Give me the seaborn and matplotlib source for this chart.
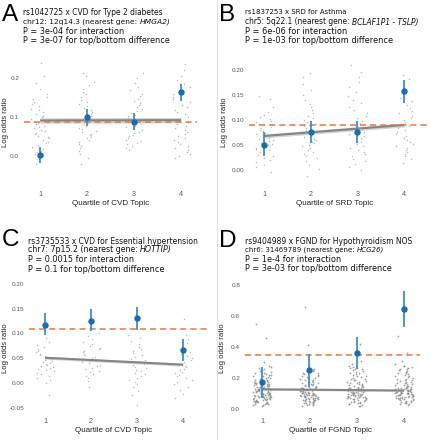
import numpy as np
import pandas as pd
import matplotlib
matplotlib.use("Agg")
import matplotlib.pyplot as plt
import seaborn as sns
from matplotlib.lines import Line2D

sns.set_style("white")
plt.rcParams['font.family'] = ['Liberation Sans', 'DejaVu Sans']

# ---------------- data ----------------
quartiles = [1, 2, 3, 4]
quartile_labels = ["1", "2", "3", "4"]

# Panel A
A_est = [0.003, 0.099, 0.088, 0.163]
A_lo = [-0.018, 0.077, 0.067, 0.142]
A_hi = [0.024, 0.120, 0.110, 0.185]
A_overall = 0.088
A_reg = [0.091, 0.092]
A_band = 0.007
A_q1 = [0.238, 0.205, 0.188, 0.172, 0.160, 0.151, 0.146, 0.139, 0.133, 0.128, 0.121, 0.117, 0.112, 0.108,
        0.103, 0.099, 0.096, 0.092, 0.088, 0.085, 0.081, 0.078, 0.074, 0.071, 0.067, 0.063, 0.060, 0.056,
        0.052, 0.049, 0.045, 0.041, 0.037, 0.033, 0.028, 0.024, 0.019, 0.014, 0.009, 0.004, -0.002, -0.012, -0.021]
A_q2 = [0.212, 0.205, 0.190, 0.181, 0.172, 0.165, 0.158, 0.150, 0.144, 0.139, 0.133, 0.127, 0.122, 0.117,
        0.112, 0.107, 0.102, 0.097, 0.093, 0.089, 0.085, 0.081, 0.077, 0.073, 0.069, 0.065, 0.061, 0.057,
        0.053, 0.049, 0.045, 0.041, 0.036, 0.031, 0.026, 0.020, 0.013, 0.006, -0.004, -0.020]
A_q3 = [0.213, 0.200, 0.186, 0.176, 0.168, 0.160, 0.153, 0.147, 0.141, 0.135, 0.130, 0.125, 0.120, 0.115,
        0.110, 0.106, 0.102, 0.098, 0.094, 0.090, 0.086, 0.082, 0.078, 0.074, 0.070, 0.066, 0.062, 0.058,
        0.054, 0.050, 0.046, 0.042, 0.038, 0.034, 0.030, 0.025, 0.020, 0.015]
A_q4 = [0.236, 0.220, 0.205, 0.195, 0.185, 0.176, 0.168, 0.160, 0.152, 0.145, 0.138, 0.131, 0.125, 0.119,
        0.113, 0.107, 0.101, 0.096, 0.091, 0.086, 0.081, 0.076, 0.071, 0.066, 0.061, 0.056, 0.051, 0.046,
        0.041, 0.036, 0.031, 0.026, 0.021, 0.016, 0.011, 0.006, 0.000, -0.005]
A_yticks = [0.0, 0.1, 0.2]
A_yticklabels = ["0.0", "0.1", "0.2"]
A_title = ["rs1042725 x CVD for Type 2 diabetes", "chr12: 12q14.3 (nearest gene: ", "HMGA2)",
           "P = 3e-04 for interaction", "P = 3e-07 for top/bottom difference"]
A_xlabel = "Quartile of CVD Topic"

# Panel B
B_est = [0.050, 0.075, 0.075, 0.157]
B_lo = [0.027, 0.053, 0.053, 0.133]
B_hi = [0.075, 0.098, 0.098, 0.180]
B_overall = 0.089
B_reg = [0.068, 0.090]
B_band = 0.004
B_q1 = [0.148, 0.142, 0.125, 0.115, 0.110, 0.106, 0.102, 0.098, 0.095, 0.092, 0.089, 0.086, 0.083, 0.080,
        0.077, 0.074, 0.072, 0.069, 0.067, 0.064, 0.062, 0.059, 0.057, 0.054, 0.052, 0.049, 0.047, 0.044,
        0.042, 0.039, 0.036, 0.033, 0.030, 0.027, 0.023, 0.019, 0.015, 0.010, 0.006, -0.005]
B_q2 = [0.194, 0.185, 0.172, 0.160, 0.150, 0.140, 0.132, 0.125, 0.119, 0.113, 0.108, 0.103, 0.099, 0.095,
        0.091, 0.087, 0.083, 0.080, 0.077, 0.074, 0.071, 0.068, 0.065, 0.062, 0.059, 0.056, 0.053, 0.050,
        0.047, 0.044, 0.040, 0.036, 0.032, 0.028, 0.023, 0.017, 0.010, 0.002, -0.012]
B_q3 = [0.210, 0.195, 0.185, 0.175, 0.165, 0.155, 0.147, 0.140, 0.133, 0.126, 0.120, 0.114, 0.108, 0.103,
        0.098, 0.093, 0.088, 0.084, 0.080, 0.076, 0.072, 0.068, 0.064, 0.060, 0.056, 0.052, 0.048, 0.044,
        0.040, 0.036, 0.032, 0.027, 0.022, 0.017, 0.012, 0.006, 0.000]
B_q4 = [0.190, 0.182, 0.172, 0.163, 0.152, 0.144, 0.137, 0.130, 0.124, 0.118, 0.113, 0.108, 0.103, 0.099,
        0.095, 0.091, 0.087, 0.083, 0.079, 0.075, 0.071, 0.067, 0.063, 0.059, 0.055, 0.051, 0.047, 0.043,
        0.039, 0.035, 0.031, 0.027, 0.022, 0.014]
B_yticks = [0.0, 0.05, 0.10, 0.15, 0.20]
B_yticklabels = ["0.00", "0.05", "0.10", "0.15", "0.20"]
B_title = ["rs1837253 x SRD for Asthma", "chr5: 5q22.1 (nearest gene: ", "BCLAF1P1 - TSLP)",
           "P = 6e-06 for interaction", "P = 1e-03 for top/bottom difference"]
B_xlabel = "Quartile of SRD Topic"

# Panel C
C_est = [0.118, 0.126, 0.131, 0.066]
C_lo = [0.096, 0.104, 0.107, 0.044]
C_hi = [0.141, 0.149, 0.153, 0.088]
C_overall = 0.110
C_reg = [0.051, 0.037]
C_band = 0.003
C_q1 = [0.090, 0.082, 0.076, 0.072, 0.068, 0.065, 0.062, 0.059, 0.056, 0.054, 0.051, 0.049, 0.046, 0.044,
        0.042, 0.040, 0.038, 0.036, 0.034, 0.032, 0.030, 0.028, 0.026, 0.024, 0.021, 0.018, 0.015, 0.011,
        0.006, 0.000, -0.024]
C_q2 = [0.130, 0.100, 0.094, 0.088, 0.083, 0.079, 0.075, 0.071, 0.068, 0.065, 0.062, 0.059, 0.056, 0.053,
        0.050, 0.048, 0.045, 0.042, 0.040, 0.037, 0.034, 0.031, 0.028, 0.025, 0.022, 0.018, 0.014, 0.010,
        0.005, -0.008]
C_q3 = [0.097, 0.090, 0.084, 0.078, 0.073, 0.068, 0.064, 0.060, 0.056, 0.052, 0.049, 0.046, 0.042, 0.039,
        0.036, 0.033, 0.030, 0.027, 0.024, 0.021, 0.018, 0.014, 0.010, 0.006, 0.002, -0.003, -0.009, -0.016,
        -0.025, -0.044]
C_q4 = [0.130, 0.097, 0.088, 0.080, 0.074, 0.068, 0.063, 0.058, 0.054, 0.050, 0.046, 0.042, 0.039, 0.035,
        0.032, 0.029, 0.026, 0.023, 0.020, 0.017, 0.014, 0.011, 0.007, 0.003, -0.002, -0.008, -0.015, -0.022,
        -0.030]
C_yticks = [-0.05, 0.0, 0.05, 0.10, 0.15, 0.20]
C_yticklabels = ["-0.05", "0.00", "0.05", "0.10", "0.15", "0.20"]
C_title = ["rs3735533 x CVD for Essential hypertension", "chr7: 7p15.2 (nearest gene: ", "HOTTIP)",
           "P = 0.0015 for interaction", "P = 0.1 for top/bottom difference"]
C_xlabel = "Quartile of CVD Topic"

# Panel D
D_est = [0.172, 0.252, 0.363, 0.645]
D_lo = [0.069, 0.140, 0.256, 0.527]
D_hi = [0.273, 0.353, 0.467, 0.763]
D_overall = 0.346
D_reg = [0.127, 0.119]
D_band = 0.006
D_q1 = [0.55, 0.46, 0.30, 0.28, 0.27, 0.265, 0.26, 0.255, 0.25, 0.245, 0.24, 0.235, 0.23, 0.225, 0.22,
        0.217, 0.213, 0.21, 0.206, 0.202, 0.198, 0.195, 0.192, 0.189, 0.186, 0.183, 0.18, 0.177, 0.174,
        0.171, 0.168, 0.165, 0.162, 0.16, 0.158, 0.156, 0.154, 0.152, 0.15, 0.148, 0.146, 0.144, 0.142,
        0.14, 0.138, 0.136, 0.134, 0.132, 0.13, 0.128, 0.126, 0.124, 0.122, 0.12, 0.119, 0.117, 0.115,
        0.113, 0.111, 0.109, 0.107, 0.105, 0.103, 0.101, 0.1, 0.098, 0.096, 0.094, 0.092, 0.09, 0.088,
        0.086, 0.084, 0.082, 0.08, 0.078, 0.076, 0.074, 0.072, 0.07, 0.068, 0.066, 0.064, 0.062, 0.06,
        0.058, 0.056, 0.054, 0.052, 0.05, 0.048, 0.046, 0.044, 0.042, 0.04, 0.038, 0.035, 0.032, 0.029,
        0.026, 0.023, 0.02, 0.112, 0.097, 0.083, 0.129, 0.143, 0.091, 0.075, 0.067, 0.121, 0.105]
D_q2 = [0.66, 0.41, 0.26, 0.25, 0.245, 0.24, 0.235, 0.23, 0.225, 0.22, 0.215, 0.21, 0.205, 0.2, 0.196,
        0.192, 0.188, 0.184, 0.18, 0.176, 0.172, 0.168, 0.165, 0.162, 0.159, 0.156, 0.153, 0.15, 0.147,
        0.144, 0.141, 0.138, 0.136, 0.134, 0.132, 0.13, 0.128, 0.126, 0.124, 0.122, 0.12, 0.118, 0.116,
        0.114, 0.112, 0.11, 0.108, 0.106, 0.104, 0.102, 0.1, 0.099, 0.097, 0.095, 0.093, 0.091, 0.089,
        0.087, 0.085, 0.083, 0.081, 0.079, 0.077, 0.075, 0.073, 0.071, 0.069, 0.067, 0.065, 0.063, 0.061,
        0.059, 0.057, 0.055, 0.053, 0.051, 0.049, 0.047, 0.045, 0.043, 0.041, 0.039, 0.036, 0.033, 0.03,
        0.027, 0.024, 0.021, 0.096, 0.088, 0.079, 0.105, 0.115, 0.072, 0.062, 0.133, 0.093, 0.084]
D_q3 = [0.42, 0.31, 0.29, 0.28, 0.27, 0.265, 0.26, 0.255, 0.25, 0.245, 0.24, 0.235, 0.23, 0.225, 0.22,
        0.215, 0.21, 0.205, 0.2, 0.196, 0.192, 0.188, 0.184, 0.18, 0.176, 0.172, 0.168, 0.165, 0.162, 0.159,
        0.156, 0.153, 0.15, 0.147, 0.144, 0.141, 0.138, 0.136, 0.134, 0.132, 0.13, 0.128, 0.126, 0.124,
        0.122, 0.12, 0.118, 0.116, 0.114, 0.112, 0.11, 0.108, 0.106, 0.104, 0.102, 0.1, 0.098, 0.096, 0.094,
        0.092, 0.09, 0.088, 0.086, 0.084, 0.082, 0.08, 0.078, 0.076, 0.074, 0.072, 0.07, 0.068, 0.066, 0.064,
        0.062, 0.06, 0.057, 0.054, 0.051, 0.048, 0.045, 0.042, 0.039, 0.036, 0.033, 0.03, 0.026, 0.022,
        0.018, 0.111, 0.099, 0.087, 0.123, 0.135, 0.078, 0.069, 0.117, 0.103, 0.091]
D_q4 = [0.47, 0.36, 0.31, 0.29, 0.28, 0.275, 0.27, 0.265, 0.26, 0.255, 0.25, 0.245, 0.24, 0.235, 0.23,
        0.225, 0.22, 0.215, 0.21, 0.205, 0.2, 0.196, 0.192, 0.188, 0.184, 0.18, 0.176, 0.172, 0.168, 0.165,
        0.162, 0.159, 0.156, 0.153, 0.15, 0.147, 0.144, 0.141, 0.138, 0.136, 0.134, 0.132, 0.13, 0.128,
        0.126, 0.124, 0.122, 0.12, 0.118, 0.116, 0.114, 0.112, 0.11, 0.108, 0.106, 0.104, 0.102, 0.1, 0.098,
        0.096, 0.094, 0.092, 0.09, 0.088, 0.086, 0.084, 0.082, 0.08, 0.078, 0.076, 0.074, 0.072, 0.07,
        0.068, 0.066, 0.064, 0.062, 0.06, 0.057, 0.054, 0.051, 0.048, 0.045, 0.042, 0.039, 0.036, 0.033,
        0.03, 0.026, 0.113, 0.101, 0.089, 0.125, 0.137, 0.081, 0.073, 0.119, 0.107, 0.095]
D_yticks = [0.0, 0.2, 0.4, 0.6, 0.8]
D_yticklabels = ["0.0", "0.2", "0.4", "0.6", "0.8"]
D_title = ["rs9404989 x FGND for Hypothyroidism NOS", "chr6: 31469789 (nearest gene: ", "HCG26)",
           "P = 1e-4 for interaction", "P = 3e-03 for top/bottom difference"]
D_xlabel = "Quartile of FGND Topic"

ylabel_text = "Log odds ratio"

# ---------------- layout / style ----------------
W, H = 431, 440
fig = plt.figure(figsize=(W / 100, H / 100), dpi=100)
fig.patch.set_facecolor("white")

BLUE = "#1b6cb0"
BLUE_BAR = "#3d8fd1"
ORANGE = "#e8783a"
TICKC = "#5a5a5a"
TITLE_FAMILY = ["DejaVu Sans"]


def px_axes(l, t, r, b):
    return fig.add_axes([l / W, 1 - b / H, (r - l) / W, (b - t) / H])


panels = [
    dict(letter="A", box=(24, 55, 197, 186), xlim=(0.66, 4.34), ylim=(-0.077, 0.259),
         est=A_est, lo=A_lo, hi=A_hi, overall=A_overall, reg=A_reg, band=A_band,
         cloud=[A_q1, A_q2, A_q3, A_q4], yt=A_yticks, ytl=A_yticklabels, title=A_title,
         xlabel=A_xlabel, letter_xy=(2, 21), text_x=23, text_y=[12.5, 22, 31, 40.5],
         ref_w=145, scales=(0.93, 0.925),
         ylab_xy=(6, 122), xlab_xy=(111, 203), ptsize=1.1, ptcol="#a5a5a5", ptalpha=0.75),
    dict(letter="B", box=(249, 55, 427, 186), xlim=(0.679, 4.49), ylim=(-0.032, 0.23),
         est=B_est, lo=B_lo, hi=B_hi, overall=B_overall, reg=B_reg, band=B_band,
         cloud=[B_q1, B_q2, B_q3, B_q4], yt=B_yticks, ytl=B_yticklabels, title=B_title,
         xlabel=B_xlabel, letter_xy=(219, 21), text_x=245, text_y=[12.5, 22, 31, 40.5],
         ref_w=148, scales=(0.85, 0.915),
         ylab_xy=(225, 122), xlab_xy=(335, 203), ptsize=1.1, ptcol="#a5a5a5", ptalpha=0.75),
    dict(letter="C", box=(29, 280, 207, 413), xlim=(0.652, 4.52), ylim=(-0.0606, 0.208),
         est=C_est, lo=C_lo, hi=C_hi, overall=C_overall, reg=C_reg, band=C_band,
         cloud=[C_q1, C_q2, C_q3, C_q4], yt=C_yticks, ytl=C_yticklabels, title=C_title,
         xlabel=C_xlabel, letter_xy=(2, 246), text_x=28, text_y=[241, 249.5, 259, 269],
         ref_w=136, scales=(0.93, 0.96),
         ylab_xy=(6, 348), xlab_xy=(114, 430), ptsize=1.1, ptcol="#a5a5a5", ptalpha=0.75),
    dict(letter="D", box=(245, 280, 420, 413), xlim=(0.641, 4.338), ylim=(-0.026, 0.832),
         est=D_est, lo=D_lo, hi=D_hi, overall=D_overall, reg=D_reg, band=D_band,
         cloud=[D_q1, D_q2, D_q3, D_q4], yt=D_yticks, ytl=D_yticklabels, title=D_title,
         xlabel=D_xlabel, letter_xy=(219, 247), text_x=245, text_y=[241, 249.5, 259, 268],
         ref_w=145, scales=(0.95, 0.87),
         ylab_xy=(223, 348), xlab_xy=(330, 430), ptsize=1.3, ptcol="#8a8a8a", ptalpha=0.8),
]

np.random.seed(3)
renderer = fig.canvas.get_renderer()


def text_line(x, y, parts, size):
    cur = x
    for text, style in parts:
        t = fig.text(cur / W, 1 - y / H, text, fontsize=size, style=style, ha="left", va="center",
                     family=TITLE_FAMILY, color="#111111")
        cur = t.get_window_extent(renderer).x1
    return cur - x


for p in panels:
    ax = px_axes(*p["box"])
    ax.set_facecolor("none")
    df = pd.DataFrame({
        "quartile": np.repeat(quartiles, [len(c) for c in p["cloud"]]),
        "lor": np.concatenate(p["cloud"]),
    })
    sns.stripplot(data=df, x="quartile", y="lor", native_scale=True, jitter=0.2,
                  size=p["ptsize"], color=p["ptcol"], alpha=p["ptalpha"], linewidth=0, ax=ax, zorder=1)
    xs = np.array([quartiles[0], quartiles[-1]], dtype=float)
    ys = np.array(p["reg"])
    ax.fill_between(xs, ys - p["band"], ys + p["band"], color="#c4c4c4", alpha=0.7, lw=0, zorder=2)
    ax.plot(xs, ys, color="#858585", lw=1.5, zorder=3, solid_capstyle="butt")
    ax.axhline(p["overall"], color=ORANGE, lw=1.1, ls=(0, (4, 2.6)), zorder=4)
    ax.vlines(quartiles, p["lo"], p["hi"], color=BLUE_BAR, lw=1.3, zorder=5)
    ax.plot(quartiles, p["est"], "o", color=BLUE, ms=4.6, mew=0, zorder=6)

    ax.set_xlim(*p["xlim"])
    ax.set_ylim(*p["ylim"])
    ax.set_xticks(quartiles)
    ax.set_xticklabels(quartile_labels)
    ax.set_yticks(p["yt"])
    ax.set_yticklabels(p["ytl"])
    ax.set_xlabel("")
    ax.set_ylabel("")
    for s in ax.spines.values():
        s.set_visible(False)
    ax.tick_params(axis="both", length=2, width=0.6, color=TICKC, labelcolor=TICKC,
                   labelsize=4.6, pad=1.5, direction="out")
    ax.tick_params(axis="x", labelsize=5.2, pad=1.8)

    fig.text(p["ylab_xy"][0] / W, 1 - p["ylab_xy"][1] / H, ylabel_text, rotation=90,
             ha="center", va="center", fontsize=5.6, color="#222222")
    fig.text(p["xlab_xy"][0] / W, 1 - p["xlab_xy"][1] / H, p["xlabel"],
             ha="center", va="center", fontsize=5.8, color="#222222")

    fig.text(p["letter_xy"][0] / W, 1 - p["letter_xy"][1] / H, p["letter"],
             ha="left", va="baseline", fontsize=17.5, color="black")

    # title block: size derived from the width of the last line
    tx, ty, t = p["text_x"], p["text_y"], p["title"]
    probe = fig.text(0, 0, t[4], fontsize=10, family=TITLE_FAMILY)
    size = 10 * p["ref_w"] / probe.get_window_extent(renderer).width
    probe.remove()
    s1, s2 = p["scales"]
    text_line(tx, ty[0], [(t[0], "normal")], size * s1)
    text_line(tx, ty[1], [(t[1], "normal"), (t[2], "italic")], size * s2)
    text_line(tx, ty[2], [(t[3], "normal")], size)
    text_line(tx, ty[3], [(t[4], "normal")], size)

fig.add_artist(Line2D([217 / W, 217 / W], [0, 1], color="#e2e2e2", lw=0.8))

fig.savefig("out.png", dpi=100, facecolor="white")
